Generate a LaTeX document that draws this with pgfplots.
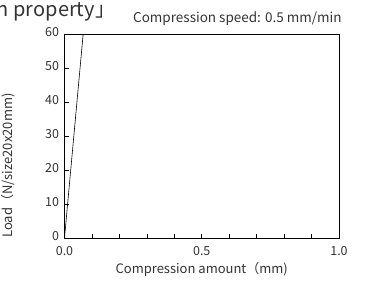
\documentclass[border=0pt]{standalone}
\usepackage{pgfplots}
\pgfplotsset{compat=1.18}
\usepackage{fontspec}
\setmainfont{Noto Sans CJK JP}
\begin{document}
\begin{tikzpicture}[x=1pt,y=1pt]
\useasboundingbox (0,0) rectangle (367,283);
\begin{axis}[
  at={(64.5pt,45pt)}, anchor=south west,
  scale only axis, width=274.5pt, height=204pt,
  xmin=0, xmax=1, ymin=0, ymax=60,
  xtick={0,0.5,1}, xticklabels={0.0,0.5,1.0},
  minor xtick={0.1,0.2,0.3,0.4,0.6,0.7,0.8,0.9},
  ytick={0,10,20,30,40,50,60},
  tick align=inside, xtick pos=bottom, ytick pos=left,
  major tick length=4.3pt, minor tick length=4.3pt,
  tick style={black, line width=0.7pt},
  axis line style={line width=0.8pt},
  /pgf/number format/assume math mode=true,
  ticklabel style={font=\fontsize{12.5}{14}\selectfont, text=black!80},
  xticklabel style={yshift=-4.5pt},
  yticklabel style={yshift=1.5pt, xshift=-2pt},
  xlabel={Compression amount（mm)},
  ylabel={Load（N/size20x20mm)},
  label style={font=\fontsize{13}{15}\selectfont, text=black!80},
  xlabel style={at={(axis description cs:0.5,0)}, anchor=center, yshift=-31pt},
  ylabel style={at={(axis description cs:-0.205,0.355)}, anchor=center},
  clip=true,
]
\addplot[black, line width=0.6pt] coordinates {(0,0) (0.068,60)};
\end{axis}
\node[anchor=base east, inner sep=0pt, font=\fontsize{20}{22}\selectfont, text=black!80] at (95,266.3) {「Compression property};
\node[anchor=base west, inner sep=0pt, font=\fontsize{20}{22}\selectfont, text=black!80] at (95,266.3) {」};
\node[anchor=base west, inner sep=0pt, font=\fontsize{13.5}{15}\selectfont, text=black!80] at (133,260) {Compression speed: 0.5 mm/min};
\end{tikzpicture}
\end{document}
